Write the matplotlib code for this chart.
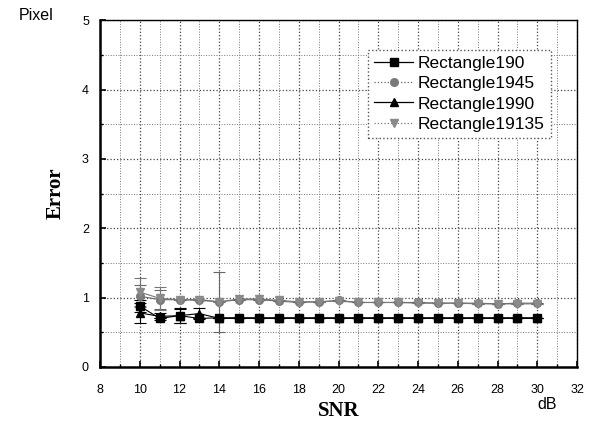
import numpy as np
import matplotlib.pyplot as plt

# Data
snr = np.arange(10, 31)

err_190 = [0.88, 0.70, 0.74, 0.70, 0.71, 0.71, 0.71, 0.71, 0.71, 0.71, 0.71,
           0.71, 0.71, 0.71, 0.71, 0.71, 0.71, 0.71, 0.71, 0.71, 0.71]
err_1945 = [1.02, 0.97, 0.97, 0.97, 0.94, 0.97, 0.97, 0.95, 0.93, 0.94, 0.96,
            0.93, 0.93, 0.93, 0.93, 0.92, 0.92, 0.92, 0.91, 0.92, 0.92]
err_1990 = [0.78, 0.73, 0.74, 0.77, 0.70, 0.70, 0.70, 0.70, 0.70, 0.70, 0.70,
            0.70, 0.70, 0.70, 0.70, 0.70, 0.70, 0.70, 0.70, 0.70, 0.70]
err_19135 = [1.08, 0.99, 0.97, 0.96, 0.94, 0.98, 0.98, 0.96, 0.94, 0.94, 0.95,
             0.93, 0.93, 0.93, 0.92, 0.92, 0.92, 0.91, 0.91, 0.91, 0.91]

sd_190 = [0.09, 0, 0.11, 0, 0, 0, 0, 0, 0, 0, 0, 0, 0, 0, 0, 0, 0, 0, 0, 0, 0]
sd_1945 = [0.16, 0.14, 0, 0, 0.43, 0, 0, 0, 0, 0, 0, 0, 0, 0, 0, 0, 0, 0, 0, 0, 0]
sd_1990 = [0.14, 0.05, 0.10, 0.08, 0, 0, 0, 0, 0, 0, 0, 0, 0, 0, 0, 0, 0, 0, 0, 0, 0]
sd_19135 = [0.20, 0.17, 0, 0, 0, 0, 0, 0, 0, 0, 0, 0, 0, 0, 0, 0, 0, 0, 0, 0, 0]

labels = ["Rectangle190", "Rectangle1945", "Rectangle1990", "Rectangle19135"]

plt.rcParams['font.family'] = ['Liberation Sans', 'DejaVu Sans']

fig = plt.figure(figsize=(5.9, 4.23), dpi=100)
ax = fig.add_axes([0.1695, 0.1324, 0.8085, 0.820])

series = [
    (err_190, sd_190, 's', 'black', 'black', '-'),
    (err_1945, sd_1945, 'o', '#7a7a7a', '#666666', ':'),
    (err_1990, sd_1990, '^', 'black', 'black', '-'),
    (err_19135, sd_19135, 'v', '#8a8a8a', '#777777', ':'),
]
handles = []
for (vals, sd, mk, fc, lc, ls), lab in zip(series, labels):
    ax.errorbar(snr, vals, yerr=sd, marker=mk, markersize=5.5, color=lc,
                markerfacecolor=fc, markeredgecolor=fc, lw=0.8, ls='-',
                elinewidth=0.8, capsize=4, capthick=0.8)
    h, = ax.plot([], [], marker=mk, markersize=5.5, color=lc, markerfacecolor=fc,
                 markeredgecolor=fc, lw=0.9, ls=ls, label=lab)
    handles.append(h)

ax.set_xlim(8, 32)
ax.set_ylim(0, 5)
ax.set_xticks(np.arange(8, 33, 2))
ax.set_xticks(np.arange(9, 32, 2), minor=True)
ax.set_yticks(np.arange(0, 6, 1))
ax.set_yticks(np.arange(0.5, 5, 1), minor=True)
ax.grid(True, which='major', color='#444444', ls=':', lw=0.9)
ax.grid(True, which='minor', color='#777777', ls=':', lw=0.7)
ax.tick_params(which='major', direction='in', length=4, width=1.2, labelsize=9)
ax.tick_params(axis='x', which='major', pad=12)
ax.tick_params(axis='y', which='major', pad=8)
ax.tick_params(which='minor', direction='in', length=2.5, width=1)
for s in ['left', 'bottom']:
    ax.spines[s].set_linewidth(1.8)
for s in ['top', 'right']:
    ax.spines[s].set_linewidth(1.0)

ax.set_xlabel("SNR", family='Liberation Serif', fontweight='bold', fontsize=15, labelpad=4)
ax.set_ylabel("Error", family='Liberation Serif', fontweight='bold', fontsize=15, labelpad=12)
fig.text(0.032, 0.952, "Pixel", fontsize=11.5)
fig.text(0.91, 0.033, "dB", fontsize=11.5)

leg = ax.legend(handles=handles, loc='upper right', bbox_to_anchor=(0.945, 0.915),
                fontsize=12.5, fancybox=False, framealpha=1, edgecolor='#555555',
                handlelength=2.2, borderpad=0.35, labelspacing=0.3,
                handletextpad=0.3, borderaxespad=0, numpoints=1)
leg.get_frame().set_linestyle(':')

fig.savefig("out.png", dpi=100)
